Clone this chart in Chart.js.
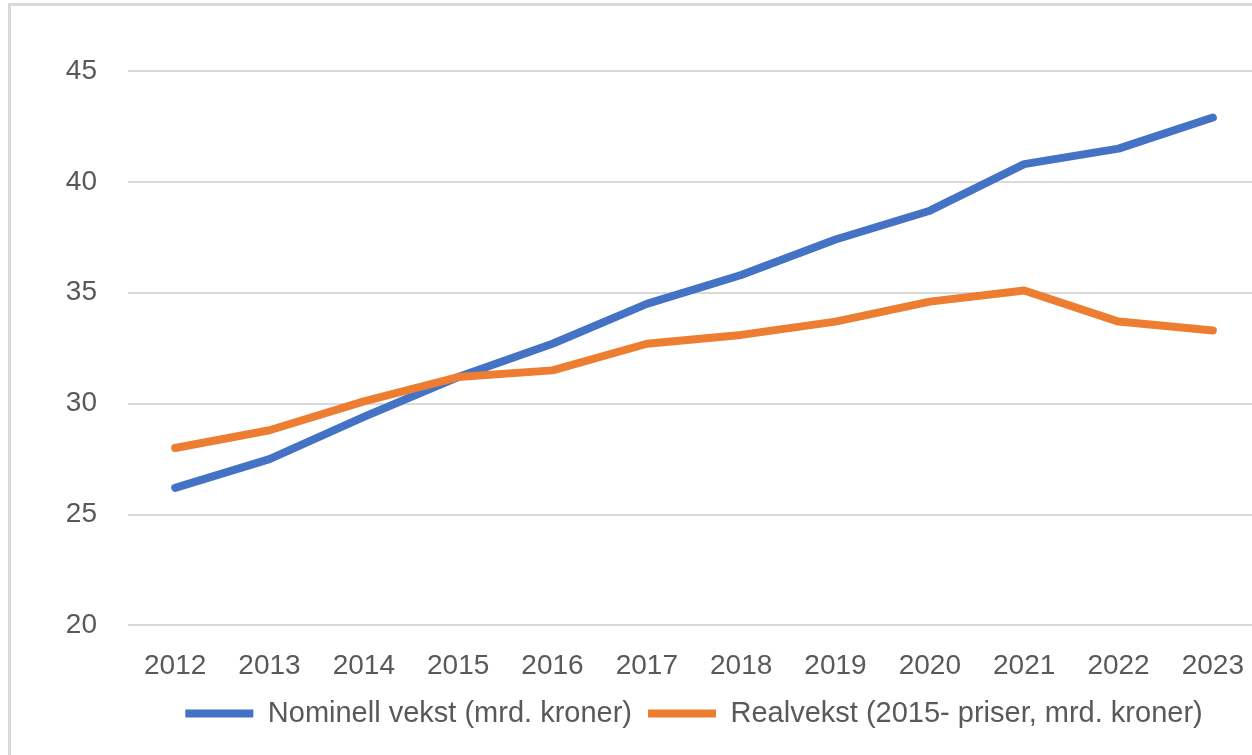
<!DOCTYPE html>
<html>
<head>
<meta charset="utf-8">
<script src="https://cdn.jsdelivr.net/npm/chart.js@4/dist/chart.umd.min.js"></script>
<style>
  html, body { margin: 0; padding: 0; background: #fff; overflow: hidden; width: 1252px; height: 755px; }
  #frame { position: absolute; left: 8px; top: 3px; width: 1400px; height: 900px; border-top: 3px solid #d9d9d9; border-left: 3px solid #d9d9d9; }
  #wrap { position: absolute; left: 0; top: 0; }
</style>
</head>
<body>
<div id="frame"></div>
<div id="wrap"><canvas id="vekstChart" width="1268" height="775"></canvas></div>
<script>
const aar = ['2012', '2013', '2014', '2015', '2016', '2017', '2018', '2019', '2020', '2021', '2022', '2023'];
const nominell = [26.2, 27.5, 29.4, 31.2, 32.7, 34.5, 35.8, 37.4, 38.7, 40.8, 41.5, 42.9];
const realvekst = [28.0, 28.8, 30.1, 31.2, 31.5, 32.7, 33.1, 33.7, 34.6, 35.1, 33.7, 33.3];
const yTicks = [20, 25, 30, 35, 40, 45];

const tekstFarge = '#595959';
const font = { family: "'Liberation Sans', Arial, sans-serif", size: 28 };

// flytter legenden litt opp, tettere under årstallene (som i Excel)
const legendeOpp = {
    id: 'legendeOpp',
    afterLayout(chart) {
        const lg = chart.legend;
        if (!lg) return;
        lg.top -= 24;
        lg.bottom -= 24;
    }
};

const ctx = document.getElementById('vekstChart').getContext('2d');

new Chart(ctx, {
    type: 'line',
    data: {
        labels: aar,
        datasets: [{
            label: 'Nominell vekst (mrd. kroner)',
            data: nominell,
            borderColor: '#4472C4',
            backgroundColor: '#4472C4',
            borderWidth: 8,
            borderCapStyle: 'round',
            borderJoinStyle: 'round',
            pointRadius: 0,
            tension: 0,
            order: 1
        }, {
            label: 'Realvekst (2015- priser, mrd. kroner)',
            data: realvekst,
            borderColor: '#ED7D31',
            backgroundColor: '#ED7D31',
            borderWidth: 8,
            borderCapStyle: 'round',
            borderJoinStyle: 'round',
            pointRadius: 0,
            tension: 0,
            order: 0
        }]
    },
    plugins: [legendeOpp],
    options: {
        responsive: false,
        animation: false,
        layout: { padding: { top: 71, left: 0, right: 0, bottom: 13 } },
        plugins: {
            tooltip: { enabled: false },
            legend: {
                position: 'bottom',
                fullSize: false, // sentrert under plottområdet
                labels: {
                    color: tekstFarge,
                    font: { family: font.family, size: 29 },
                    usePointStyle: true,
                    pointStyle: 'line',
                    pointStyleWidth: 68,
                    padding: 16,
                    sort: (a, b) => a.datasetIndex - b.datasetIndex
                }
            }
        },
        scales: {
            x: {
                offset: true,
                grid: { display: false, drawTicks: false },
                border: { display: false },
                ticks: { color: tekstFarge, font: font, padding: 24, maxRotation: 0 }
            },
            y: {
                min: 20,
                max: 45,
                afterBuildTicks: (scale) => { scale.ticks = yTicks.map(v => ({ value: v })); },
                afterFit: (scale) => { scale.width = 128; },
                grid: { color: '#d9d9d9', lineWidth: 2, drawTicks: false },
                border: { display: false },
                ticks: { color: tekstFarge, font: font, padding: 31 }
            }
        }
    }
});
</script>
</body>
</html>
